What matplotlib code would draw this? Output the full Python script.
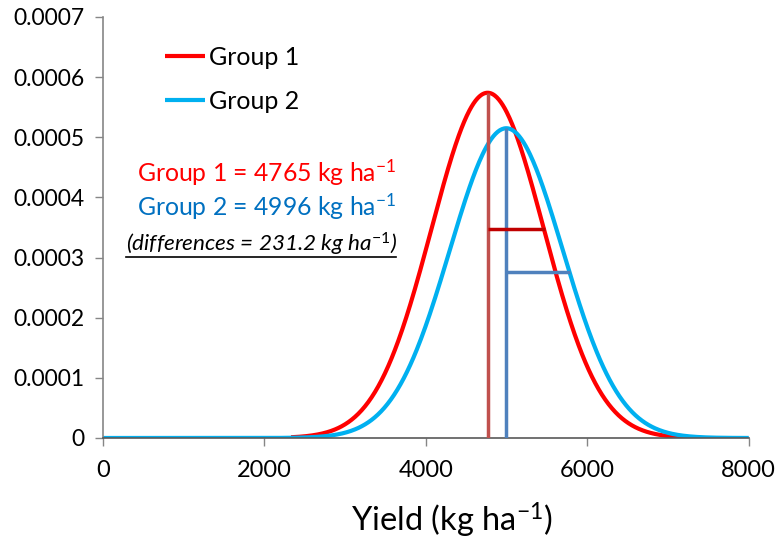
import numpy as np
import matplotlib
matplotlib.use("Agg")
import matplotlib.pyplot as plt
from matplotlib.lines import Line2D

plt.rcParams['font.family'] = ['Lato', 'DejaVu Sans']
plt.rcParams['mathtext.fontset'] = 'custom'
plt.rcParams['mathtext.rm'] = 'Lato'
plt.rcParams['mathtext.it'] = 'Lato:italic'

# ---- data ----
groups = ["Group 1", "Group 2"]
means = [4765, 4996]          # kg/ha
sds = [695, 700]              # curve spread
peaks = [0.000574, 0.000515]  # curve maximum density
x_ranges = [(2330, 7270), (0, 8000)]
hline_y = [0.000347, 0.000276]
hline_x_end = [5470, 5790]
difference = 231.2

curve_colors = ["#FF0000", "#00B0F0"]
vline_colors = ["#C0504D", "#4F81BD"]
hline_colors = ["#C00000", "#4F81BD"]
text_colors = ["#FF0000", "#0070C0"]

fig = plt.figure(figsize=(7.80, 5.39), dpi=100)
ax = fig.add_axes([0.132, 0.1874, 0.828, 0.7811])

for i in range(2):
    x = np.linspace(x_ranges[i][0], x_ranges[i][1], 600)
    y = peaks[i] * np.exp(-0.5 * ((x - means[i]) / sds[i]) ** 2)
    ax.plot(x, y, color=curve_colors[i], lw=3.0, label=groups[i], zorder=2,
            solid_capstyle='butt')

for i in range(2):
    ax.vlines(means[i], 0, peaks[i], color=vline_colors[i], lw=2.5, zorder=3)
for i in range(2):
    ax.hlines(hline_y[i], means[i], hline_x_end[i], color=hline_colors[i], lw=2.5, zorder=3)

ax.set_xlim(0, 8000)
ax.set_ylim(0, 0.0007)
ax.set_xticks([0, 2000, 4000, 6000, 8000])
ax.set_xticklabels(["0", "2000", "4000", "6000", "8000"])
yt = [0, 0.0001, 0.0002, 0.0003, 0.0004, 0.0005, 0.0006, 0.0007]
ax.set_yticks(yt)
ax.set_yticklabels(["0", "0.0001", "0.0002", "0.0003", "0.0004", "0.0005", "0.0006", "0.0007"])
ax.tick_params(axis='both', length=6, width=1, color="#868686",
               direction='out', labelcolor="#000000")
ax.tick_params(axis='y', labelsize=16.5, pad=7)
ax.tick_params(axis='x', labelsize=17, pad=10)
for s in ["top", "right"]:
    ax.spines[s].set_visible(False)
ax.spines["left"].set_color("#868686")
ax.spines["bottom"].set_color("#595959")
ax.spines["left"].set_linewidth(1.2)
ax.spines["bottom"].set_linewidth(1.2)

ax.set_xlabel(r"Yield (kg ha$^{-1}$)", fontsize=23.5, va="center")
ax.xaxis.set_label_coords(0.540, -0.197)

leg = ax.legend(loc="upper left", bbox_to_anchor=(0.061, 0.985), frameon=False,
                fontsize=18, handlelength=1.6, handletextpad=0.15, labelspacing=0.85)

ax.text(0.052, 0.630, r"Group 1 = %d kg ha$^{-1}$" % means[0], transform=ax.transAxes,
        color=text_colors[0], fontsize=17.8, va="center", ha="left")
ax.text(0.052, 0.549, r"Group 2 = %d kg ha$^{-1}$" % means[1], transform=ax.transAxes,
        color=text_colors[1], fontsize=17.8, va="center", ha="left")
t3 = ax.text(0.035, 0.461, r"(differences = %.1f kg ha$^{\mathit{-1}}$)" % difference,
             transform=ax.transAxes, color="black", fontsize=16.2, style="italic",
             va="center", ha="left")

fig.canvas.draw()
bb = t3.get_window_extent()
inv = fig.transFigure.inverted()
(x0, y0) = inv.transform((bb.x0, bb.y0 + 1))
(x1, _) = inv.transform((bb.x1, bb.y0 + 1))
fig.add_artist(Line2D([x0, x1], [y0, y0], transform=fig.transFigure, color="black", lw=1.2))

fig.savefig("out.png", dpi=100)
